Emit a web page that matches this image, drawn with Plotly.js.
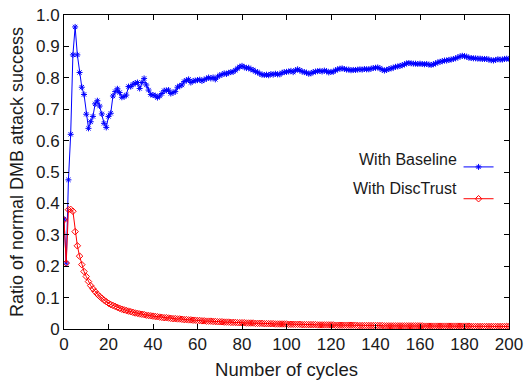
<!DOCTYPE html>
<html>
<head>
<meta charset="utf-8">
<script src="https://cdn.plot.ly/plotly-3.0.1.min.js"></script>
<style>html,body{margin:0;padding:0;background:#fff;}#chart{width:526px;height:383px;}</style>
</head>
<body>
<div id="chart"></div>
<script>
// Cycle numbers 0..200
var cycles = [];
for (var i = 0; i <= 200; i++) cycles.push(i);

var seriesNames = ["With Baseline", "With DiscTrust"];

var baseline = [
0.35,0.21,0.475,0.62,0.873,0.962,0.873,0.817,0.77,0.747,
0.684,0.639,0.66,0.677,0.717,0.727,0.71,0.685,0.655,0.642,
0.677,0.687,0.742,0.756,0.765,0.753,0.738,0.74,0.745,0.772,
0.772,0.779,0.783,0.785,0.766,0.785,0.798,0.777,0.761,0.747,
0.745,0.743,0.737,0.742,0.75,0.759,0.76,0.761,0.75,0.753,
0.756,0.77,0.774,0.777,0.788,0.792,0.795,0.785,0.79,0.791,
0.793,0.794,0.79,0.794,0.797,0.801,0.798,0.801,0.795,0.803,
0.808,0.81,0.814,0.812,0.816,0.818,0.819,0.824,0.83,0.835,
0.838,0.834,0.831,0.832,0.827,0.825,0.82,0.818,0.813,0.81,
0.809,0.81,0.808,0.812,0.81,0.813,0.811,0.811,0.816,0.818,
0.819,0.82,0.822,0.818,0.824,0.827,0.824,0.82,0.818,0.816,
0.813,0.814,0.818,0.82,0.821,0.822,0.82,0.823,0.821,0.817,
0.819,0.819,0.824,0.827,0.829,0.83,0.828,0.826,0.826,0.824,
0.825,0.825,0.826,0.827,0.826,0.828,0.827,0.827,0.829,0.831,
0.832,0.833,0.83,0.826,0.823,0.825,0.828,0.83,0.832,0.835,
0.836,0.838,0.84,0.843,0.846,0.847,0.846,0.845,0.845,0.844,
0.845,0.844,0.843,0.844,0.842,0.841,0.843,0.846,0.849,0.851,
0.853,0.855,0.855,0.857,0.858,0.86,0.862,0.865,0.868,0.87,
0.869,0.867,0.864,0.863,0.862,0.862,0.861,0.861,0.86,0.86,
0.86,0.858,0.856,0.855,0.857,0.859,0.858,0.858,0.86,0.861,
0.86
];

var discTrust = [
0.347,0.21,0.38,0.381,0.375,0.31,0.265,0.232,0.205,0.183,
0.167,0.151,0.138,0.128,0.119,0.111,0.104,0.098,0.092,0.087,
0.082,0.078,0.075,0.072,0.069,0.066,0.063,0.061,0.059,0.057,
0.055,0.053,0.051,0.050,0.048,0.047,0.046,0.044,0.043,0.042,
0.041,0.040,0.039,0.038,0.037,0.036,0.036,0.035,0.034,0.033,
0.033,0.032,0.032,0.031,0.030,0.030,0.029,0.029,0.028,0.028,
0.027,0.027,0.026,0.026,0.025,0.025,0.025,0.024,0.024,0.023,
0.023,0.023,0.022,0.022,0.022,0.021,0.021,0.021,0.020,0.020,
0.020,0.020,0.019,0.019,0.019,0.019,0.018,0.018,0.018,0.018,
0.017,0.017,0.017,0.017,0.017,0.016,0.016,0.016,0.016,0.016,
0.016,0.015,0.015,0.015,0.015,0.015,0.015,0.014,0.014,0.014,
0.014,0.014,0.014,0.014,0.013,0.013,0.013,0.013,0.013,0.013,
0.013,0.013,0.012,0.012,0.012,0.012,0.012,0.012,0.012,0.012,
0.012,0.012,0.011,0.011,0.011,0.011,0.011,0.011,0.011,0.011,
0.011,0.011,0.011,0.011,0.010,0.010,0.010,0.010,0.010,0.010,
0.010,0.010,0.010,0.010,0.010,0.010,0.010,0.010,0.010,0.010,
0.010,0.010,0.009,0.009,0.009,0.009,0.009,0.009,0.009,0.009,
0.009,0.009,0.009,0.009,0.009,0.009,0.009,0.009,0.009,0.009,
0.009,0.009,0.009,0.008,0.008,0.008,0.008,0.008,0.008,0.008,
0.008,0.008,0.008,0.008,0.008,0.008,0.008,0.008,0.008,0.008,
0.008
];

var xTickVals = [0,20,40,60,80,100,120,140,160,180,200];
var yTickVals = [0,0.1,0.2,0.3,0.4,0.5,0.6,0.7,0.8,0.9,1.0];
var yTickText = ["0","0.1","0.2","0.3","0.4","0.5","0.6","0.7","0.8","0.9","1.0"];

var FONT = "Liberation Sans, Arial, sans-serif";
var TXT = "#1a1a1a";

var traces = [
  {
    x: cycles, y: baseline, type: "scatter", mode: "lines+markers",
    name: " ", legendgroup: "a", hovertext: seriesNames[0],
    line: {color: "#0000ff", width: 1},
    marker: {symbol: "asterisk-open", size: 5, color: "#0000ff", line: {color: "#0000ff", width: 1}}
  },
  {
    x: cycles, y: discTrust, type: "scatter", mode: "lines+markers",
    name: " ", legendgroup: "b", hovertext: seriesNames[1],
    line: {color: "#ff0000", width: 1},
    marker: {symbol: "diamond-open", size: 5, color: "#ff0000", line: {color: "#ff0000", width: 1}}
  }
];

var axisCommon = {
  showline: true, linecolor: "#000", linewidth: 1, mirror: "ticks",
  ticks: "inside", ticklen: 5, tickcolor: "#000", tickwidth: 1,
  showgrid: false, zeroline: false,
  tickfont: {family: FONT, size: 17, color: TXT}
};

var layout = {
  width: 526, height: 383,
  margin: {l: 64, r: 17, t: 15, b: 54},
  paper_bgcolor: "#fff", plot_bgcolor: "#fff",
  showlegend: true,
  legend: {
    x: 0.999, xanchor: "right", y: 0.57, yanchor: "top",
    bgcolor: "rgba(0,0,0,0)", font: {family: FONT, size: 16, color: TXT},
    tracegroupgap: 8, itemwidth: 30
  },
  xaxis: Object.assign({}, axisCommon, {
    range: [0, 200], tickvals: xTickVals,
    title: {text: "Number of cycles", font: {family: FONT, size: 18.5, color: TXT}, standoff: 9}
  }),
  yaxis: Object.assign({}, axisCommon, {
    range: [0, 1.0], tickvals: yTickVals, ticktext: yTickText,
    title: {text: "Ratio of normal DMB attack success", font: {family: FONT, size: 18, color: TXT}, standoff: 7}
  }),
  annotations: [
    {xref: "paper", yref: "paper", x: 0.887, y: 0.541, xanchor: "right", yanchor: "middle",
     text: seriesNames[0], showarrow: false, font: {family: FONT, size: 16, color: TXT}},
    {xref: "paper", yref: "paper", x: 0.887, y: 0.447, xanchor: "right", yanchor: "middle",
     text: seriesNames[1], showarrow: false, font: {family: FONT, size: 16, color: TXT}}
  ]
};

Plotly.newPlot("chart", traces, layout, {displayModeBar: false, staticPlot: true});
</script>
</body>
</html>
